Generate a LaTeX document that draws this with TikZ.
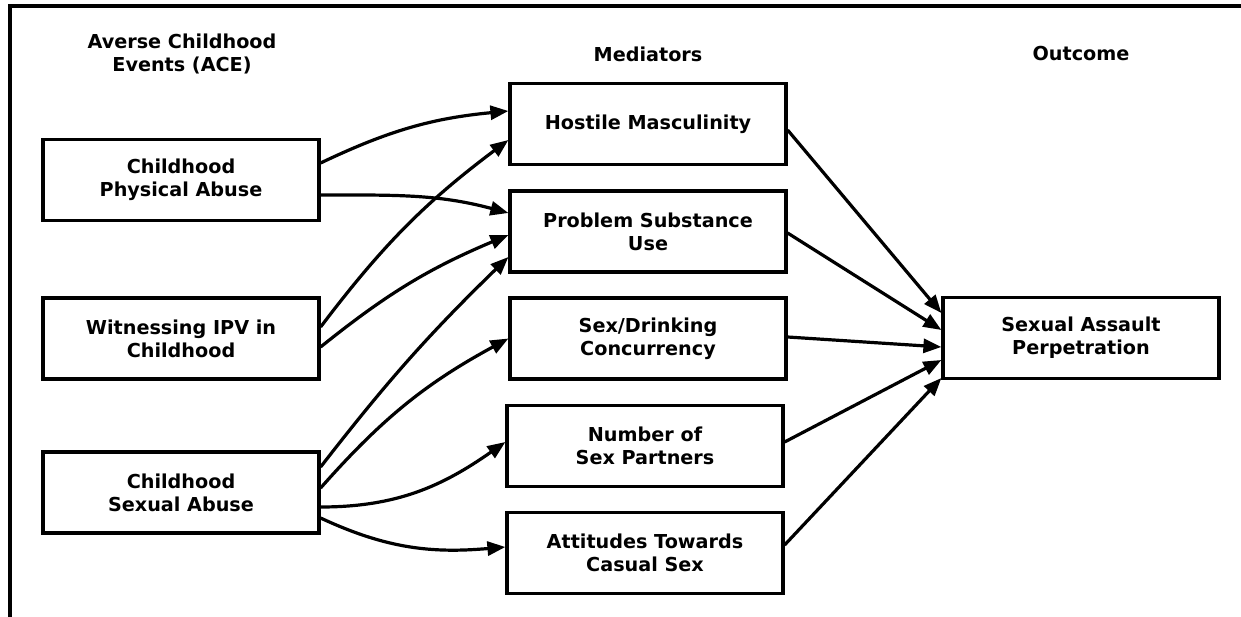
\documentclass[tikz,border=0pt]{standalone}
\usepackage{fontspec}
\setmainfont{DejaVu Sans}[BoldFont={DejaVu Sans Bold}]
\usetikzlibrary{arrows.meta}
\begin{document}
\begin{tikzpicture}[x=1pt,y=1pt,
  txt/.style={font=\fontsize{19.2}{23}\selectfont\bfseries, align=center},
  box/.style={txt, draw, line width=3.2pt, minimum width=276pt, minimum height=81pt, inner sep=0pt},
  arr/.style={line width=3.2pt, -{Triangle[length=18pt,width=14pt]}}]
\useasboundingbox (0,0) rectangle (1241,-617);
\draw[line width=3.2pt] (1241,-6) -- (10,-6) -- (10,-617);
% headers
\node[txt] (h1) at (182,-54) {Averse Childhood\\Events (ACE)};
\node[txt] (h2) at (648,-54) {Mediators};
\node[txt] (h3) at (1081,-54) {Outcome};
% left boxes
\node[box] (cpa) at (181,-180) {Childhood\\Physical Abuse};
\node[box] (wipv) at (181,-338.5) {Witnessing IPV in\\Childhood};
\node[box] (csa) at (181,-492.5) {Childhood\\Sexual Abuse};
% mediators
\node[box] (hm) at (648,-124) {Hostile Masculinity};
\node[box] (psu) at (648,-231.5) {Problem Substance\\Use};
\node[box] (sd) at (648,-338.5) {Sex/Drinking\\Concurrency};
\node[box] (nsp) at (645,-446) {Number of\\Sex Partners};
\node[box] (att) at (645,-553) {Attitudes Towards\\Casual Sex};
% outcome
\node[box] (sap) at (1081,-338) {Sexual Assault\\Perpetration};
% ACE -> mediators
\draw[arr] ([yshift=17pt]cpa.east) to[bend left=10] ([yshift=13pt]hm.west);
\draw[arr] ([yshift=-15pt]cpa.east) to[out=0,in=165] ([yshift=18.5pt]psu.west);
\draw[arr] ([yshift=11.5pt]wipv.east) to[bend left=8] ([yshift=-16pt]hm.west);
\draw[arr] ([yshift=-8.5pt]wipv.east) to[bend left=8] ([yshift=-3.5pt]psu.west);
\draw[arr] ([yshift=25.5pt]csa.east) to[bend left=4] ([yshift=-25.5pt]psu.west);
\draw[arr] ([yshift=4.5pt]csa.east) to[bend left=10] (sd.west);
\draw[arr] ([yshift=-14.5pt]csa.east) to[out=0,in=215] ([yshift=4pt]nsp.west);
\draw[arr] ([yshift=-25.5pt]csa.east) to[out=-25,in=185] ([yshift=6pt]att.west);
% mediators -> outcome
\draw[arr] ([yshift=-6pt]hm.east) -- ([yshift=25pt]sap.west);
\draw[arr] ([yshift=-1.5pt]psu.east) -- ([yshift=8pt]sap.west);
\draw[arr] ([yshift=1.5pt]sd.east) -- ([yshift=-9pt]sap.west);
\draw[arr] ([yshift=4pt]nsp.east) -- ([yshift=-22pt]sap.west);
\draw[arr] ([yshift=8pt]att.east) -- ([yshift=-40pt]sap.west);
\end{tikzpicture}
\end{document}
